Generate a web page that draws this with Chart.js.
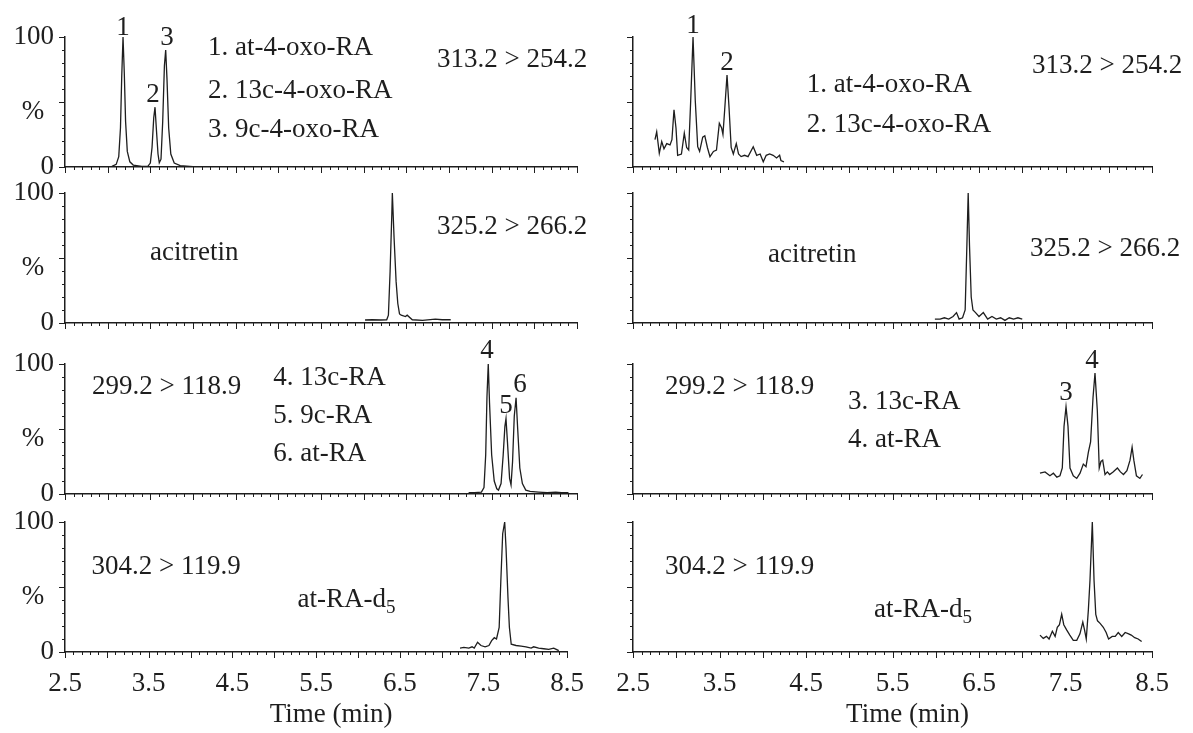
<!DOCTYPE html>
<html><head><meta charset="utf-8">
<script src="https://cdn.jsdelivr.net/npm/chart.js@4.4.1/dist/chart.umd.min.js"></script>
<style>
html,body{margin:0;padding:0;background:#fff;width:1193px;height:733px;overflow:hidden;position:relative}
canvas.p{position:absolute}
</style></head><body>
<script>
// ---------- axis ticks ----------
const timeTicks = [2.5, 3.5, 4.5, 5.5, 6.5, 7.5, 8.5];
const yTicks = [0, 100];
const yTickLabels = ['0', '100'];

// ---------- traces (time in min, relative intensity %) ----------
// Row 1 standard: 313.2 > 254.2
const stdOxoTime = [2.82,2.95,3.05,3.1,3.13,3.15,3.165,3.18,3.195,3.21,3.23,3.26,3.3,3.4,3.47,3.5,3.52,3.54,3.555,3.57,3.59,3.605,3.625,3.645,3.665,3.68,3.695,3.715,3.74,3.78,3.85,4.0,4.26];
const stdOxoPct  = [0,0.2,0.5,2,8,30,70,100,72,35,12,4,1.5,0.5,0.5,3,15,38,46,30,10,3.3,6,35,78,90,68,30,10,3,1,0.3,0];
// Row 1 sample
const smpOxoTime = [2.754,2.774,2.804,2.832,2.858,2.89,2.928,2.95,2.974,2.997,3.016,3.06,3.093,3.12,3.144,3.167,3.194,3.22,3.248,3.27,3.306,3.33,3.36,3.39,3.43,3.465,3.498,3.525,3.54,3.56,3.587,3.61,3.635,3.66,3.694,3.72,3.75,3.79,3.83,3.89,3.93,3.97,4.006,4.04,4.08,4.12,4.16,4.195,4.21,4.245];
const smpOxoPct  = [21,27,10.5,19.5,14,18,17,21,44,30,9,10,26,15,13,51,100,51,15.6,12,23,24,15,8,12,13,33.6,30,25,44,70.8,46,15,10,18,10,8,9,8,15.6,9,10,4,9,10,9,7,9,5,4];
// Row 2 standard: 325.2 > 266.2 (acitretin)
const stdAciTime = [6.016,6.1,6.2,6.27,6.29,6.31,6.33,6.336,6.356,6.38,6.40,6.42,6.44,6.49,6.51,6.57,6.69,6.84,6.92,7.02];
const stdAciPct  = [2.3,2.5,2.3,2.5,6,40,84,100,66,32,15,7,6,5,6,2.5,2,3,2.5,2.5];
// Row 2 sample
const smpAciTime = [5.99,6.05,6.1,6.15,6.2,6.24,6.27,6.31,6.34,6.36,6.375,6.39,6.41,6.43,6.46,6.5,6.55,6.6,6.65,6.7,6.75,6.8,6.85,6.9,6.95,7.0];
const smpAciPct  = [3,3,4,3,5,8,3,4,10,60,100,60,20,10,8,5,8,3,5,3,4,2,4,3,4,3];
// Row 3 standard: 299.2 > 118.9
const stdRATime = [7.23,7.3,7.38,7.41,7.43,7.445,7.46,7.475,7.5,7.53,7.56,7.58,7.61,7.635,7.655,7.668,7.685,7.71,7.727,7.745,7.765,7.786,7.805,7.83,7.86,7.9,7.95,8.05,8.15,8.25,8.32,8.4];
const stdRAPct  = [1,1,1.5,5,30,75,100,70,30,10,4,3,8,30,52,58,40,12,7,25,60,74,50,20,8,3,2,1.5,1,1.5,1,1];
// Row 3 sample
const smpRATime = [7.205,7.263,7.32,7.36,7.40,7.436,7.463,7.483,7.506,7.529,7.552,7.59,7.63,7.668,7.706,7.737,7.764,7.79,7.818,7.841,7.868,7.89,7.91,7.93,7.957,7.984,8.01,8.05,8.1,8.135,8.17,8.21,8.246,8.27,8.29,8.32,8.36,8.39];
const smpRAPct  = [16,17,14,16,13,14,20,52,67,52,20,14,12,16,23,21,32,40,74,93,64,20,25,26,15,17,15,17,20,17,15,18,26,36,26,14,12,15];
// Row 4 standard: 304.2 > 119.9 (at-RA-d5)
const stdD5Time = [7.22,7.266,7.325,7.364,7.39,7.43,7.47,7.52,7.566,7.598,7.63,7.656,7.688,7.708,7.73,7.754,7.77,7.793,7.81,7.832,7.89,7.95,8.008,8.07,8.1,8.16,8.22,8.28,8.34,8.37,8.40];
const stdD5Pct  = [3,3.5,3,4,3,7.5,5,4,5,8.7,11,10,19,55,91,100,80,42,19,6,5,4.5,4,3,4,3,2.5,2,3,2,1];
// Row 4 sample
const smpD5Time = [7.205,7.243,7.28,7.31,7.348,7.38,7.405,7.43,7.456,7.48,7.513,7.55,7.59,7.63,7.667,7.70,7.72,7.74,7.764,7.783,7.81,7.83,7.85,7.87,7.9,7.937,7.97,7.998,8.04,8.075,8.11,8.15,8.19,8.23,8.26,8.30,8.34,8.38];
const smpD5Pct  = [13,10.5,12,10,16,12,19,21,29,21,17,13,9,9,14,23,17,10,32,55,100,55,29,24,22,19,15,10,12,12,15,12,15,14,13,11,10,8];

// ---------- text labels (placed in data coordinates) ----------
const notesR1L = [{t:'1',x:3.18,y:101.5,a:'center'},{t:'2',x:3.53,y:50,a:'center'},{t:'3',x:3.695,y:93.8,a:'center'},
  {t:'1. at-4-oxo-RA',x:4.176,y:86.2},{t:'2. 13c-4-oxo-RA',x:4.176,y:53.1},{t:'3. 9c-4-oxo-RA',x:4.176,y:23.1},{t:'313.2 > 254.2',x:6.86,y:76.9}];
const notesR1R = [{t:'1',x:3.194,y:103,a:'center'},{t:'2',x:3.587,y:74.6,a:'center'},
  {t:'1. at-4-oxo-RA',x:4.51,y:57.7},{t:'2. 13c-4-oxo-RA',x:4.51,y:26.9},{t:'313.2 > 254.2',x:7.113,y:72.3}];
const notesR2L = [{t:'acitretin',x:3.496,y:48.5},{t:'325.2 > 266.2',x:6.86,y:68.5}];
const notesR2R = [{t:'acitretin',x:4.06,y:46.9},{t:'325.2 > 266.2',x:7.09,y:51.5}];
const notesR3L = [{t:'299.2 > 118.9',x:2.816,y:76.9},{t:'4. 13c-RA',x:4.94,y:83.8},{t:'5. 9c-RA',x:4.94,y:54.6},{t:'6. at-RA',x:4.94,y:25.4},
  {t:'4',x:7.445,y:104.6,a:'center'},{t:'5',x:7.668,y:62.3,a:'center'},{t:'6',x:7.832,y:78.5,a:'center'}];
const notesR3R = [{t:'299.2 > 118.9',x:2.87,y:76.9},{t:'3. 13c-RA',x:4.986,y:65.4},{t:'4. at-RA',x:4.986,y:36.2},
  {t:'3',x:7.506,y:72.3,a:'center'},{t:'4',x:7.806,y:96.9,a:'center'}];
const notesR4L = [{t:'304.2 > 119.9',x:2.816,y:60},{t:'at-RA-d',sub:'5',x:5.277,y:34.6}];
const notesR4R = [{t:'304.2 > 119.9',x:2.87,y:60},{t:'at-RA-d',sub:'5',x:5.286,y:26.9}];

const FONT = '"Liberation Serif", "Times New Roman", serif';
const INK = '#1e1e1e';
const FS = 27;
const zeroY = [167, 323, 494, 652];
const cols = [{left:0,width:600,yw:65,padR:23},{left:600,width:593,yw:33,padR:41}];

const decor = {
  id:'decor',
  afterDraw(chart, args, opts){
    const {ctx, chartArea:a, scales:{x, y}} = chart;
    ctx.save();
    ctx.strokeStyle = INK; ctx.lineWidth = 1;
    ctx.beginPath();
    for (let i = 0; i <= 60; i++) {
      const px = Math.round(x.getPixelForValue(2.5 + i/10)) + 0.5;
      const len = i % 5 === 0 ? 6 : 3;
      ctx.moveTo(px, a.bottom); ctx.lineTo(px, a.bottom + len);
    }
    for (let i = 0; i <= 10; i++) {
      const py = Math.round(y.getPixelForValue(i*10)) + 0.5;
      const len = i % 5 === 0 ? 6 : 3;
      ctx.moveTo(a.left, py); ctx.lineTo(a.left - len, py);
    }
    ctx.stroke();
    ctx.fillStyle = INK;
    ctx.textBaseline = 'alphabetic';
    const notes = opts.notes || [];
    notes.forEach(n => {
      ctx.font = FS + 'px ' + FONT;
      ctx.textAlign = n.a || 'left';
      const px = x.getPixelForValue(n.x), py = y.getPixelForValue(n.y);
      ctx.fillText(n.t, px, py);
      if (n.sub) {
        const w = ctx.measureText(n.t).width;
        ctx.font = '19px ' + FONT;
        ctx.textAlign = 'left';
        ctx.fillText(n.sub, px + w, py + 6);
      }
    });
    if (opts.col === 0) {
      ctx.font = FS + 'px ' + FONT;
      ctx.textAlign = 'center'; ctx.textBaseline = 'middle';
      ctx.fillText('%', a.left - 32, y.getPixelForValue(50) + 10);
    }
    if (opts.last) {
      ctx.font = FS + 'px ' + FONT;
      ctx.textAlign = 'center'; ctx.textBaseline = 'alphabetic';
      ctx.fillText('Time (min)', (a.left + a.right)/2 + 15, a.bottom + 70);
    }
    ctx.restore();
  }
};

function makePanel(row, col, times, pcts, notes){
  const c = cols[col];
  const top = zeroY[row] - 167;
  const last = row === 3;
  const h = last ? 733 - top : 167 + 32;
  const cv = document.createElement('canvas');
  cv.className = 'p';
  cv.style.left = c.left + 'px'; cv.style.top = top + 'px';
  cv.style.width = c.width + 'px'; cv.style.height = h + 'px';
  cv.width = c.width; cv.height = h;
  document.body.appendChild(cv);
  new Chart(cv, {
    type: 'line',
    data: { datasets: [{
      data: times.map((t, i) => ({x: t, y: pcts[i]})),
      borderColor: INK, borderWidth: 1.3, pointRadius: 0, tension: 0, fill: false
    }]},
    options: {
      responsive: false, animation: false, devicePixelRatio: 1,
      layout: { padding: { top: 37, right: c.padR, left: 0, bottom: 0 } },
      plugins: { legend: {display:false}, tooltip: {enabled:false}, title: {display:false},
        decor: { notes: notes, col: col, last: last } },
      scales: {
        x: { type: 'linear', min: 2.5, max: 8.5,
          afterBuildTicks: s => { s.ticks = timeTicks.map(v => ({value: v})); },
          afterFit: s => { s.height = h - 167; },
          grid: { display: false, drawTicks: false },
          border: { display: true, color: INK, width: 1.5 },
          ticks: { display: last, font: {family: FONT, size: FS}, color: INK, padding: 16,
            maxRotation: 0, autoSkip: false, callback: v => Number(v).toFixed(1) } },
        y: { type: 'linear', min: 0, max: 100,
          afterBuildTicks: s => { s.ticks = yTicks.map(v => ({value: v})); },
          afterFit: s => { s.width = c.yw; },
          grid: { display: false, drawTicks: false },
          border: { display: true, color: INK, width: 1.5 },
          ticks: { display: col === 0, font: {family: FONT, size: FS}, color: INK, padding: 11,
            callback: (v, i) => yTickLabels[i] } }
      }
    },
    plugins: [decor]
  });
}

makePanel(0, 0, stdOxoTime, stdOxoPct, notesR1L);
makePanel(0, 1, smpOxoTime, smpOxoPct, notesR1R);
makePanel(1, 0, stdAciTime, stdAciPct, notesR2L);
makePanel(1, 1, smpAciTime, smpAciPct, notesR2R);
makePanel(2, 0, stdRATime, stdRAPct, notesR3L);
makePanel(2, 1, smpRATime, smpRAPct, notesR3R);
makePanel(3, 0, stdD5Time, stdD5Pct, notesR4L);
makePanel(3, 1, smpD5Time, smpD5Pct, notesR4R);
</script>
</body></html>
